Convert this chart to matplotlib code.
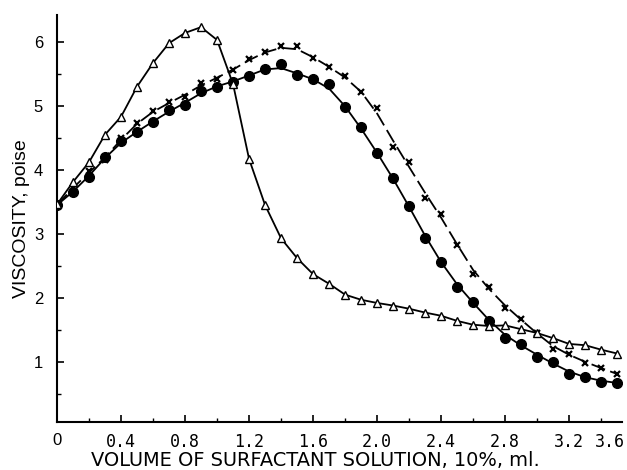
import numpy as np
import matplotlib
matplotlib.use("Agg")
import matplotlib.pyplot as plt

plt.rcParams['font.family'] = ['Liberation Sans', 'DejaVu Sans']

volume = [round(0.1 * i, 1) for i in range(36)]

tri = [3.46, 3.81, 4.12, 4.55, 4.83, 5.30, 5.67, 5.98, 6.14, 6.23,
       6.03, 5.34, 4.17, 3.45, 2.93, 2.62, 2.37, 2.22, 2.05, 1.97,
       1.92, 1.88, 1.83, 1.77, 1.72, 1.64, 1.58, 1.56, 1.57, 1.51,
       1.45, 1.37, 1.28, 1.26, 1.19, 1.13]

circ = [3.45, 3.65, 3.89, 4.20, 4.45, 4.59, 4.75, 4.94, 5.01, 5.24,
        5.30, 5.38, 5.47, 5.58, 5.65, 5.48, 5.42, 5.34, 4.98, 4.67,
        4.26, 3.87, 3.44, 2.94, 2.56, 2.17, 1.94, 1.64, 1.38, 1.28,
        1.08, 1.00, 0.81, 0.77, 0.69, 0.67]

cross = [3.45, 3.72, 3.98, 4.15, 4.50, 4.73, 4.92, 5.06, 5.14, 5.36,
         5.42, 5.56, 5.73, 5.84, 5.93, 5.93, 5.75, 5.61, 5.47, 5.22,
         4.97, 4.36, 4.13, 3.56, 3.31, 2.83, 2.37, 2.17, 1.84, 1.67,
         1.45, 1.20, 1.13, 0.98, 0.91, 0.81]

xtick_vals = [0, 0.4, 0.8, 1.2, 1.6, 2.0, 2.4, 2.8, 3.2]
xtick_labels = ['0', '0.4', '0.8', '1.2', '1.6', '2.0', '2.4', '2.8', '3.2']
last_label = '3.6'
ytick_vals = [1, 2, 3, 4, 5, 6]


def smooth(vals):
    v = np.asarray(vals, dtype=float)
    out = v.copy()
    out[1:-1] = (v[:-2] + 2 * v[1:-1] + v[2:]) / 4.0
    return out


fig = plt.figure(figsize=(6.27, 4.70), dpi=100)
ax = fig.add_axes([57/627, 48/470, 565/627, 407/470])

lw = 1.3
ax.plot(volume, tri, color='black', lw=lw, zorder=2)
ax.plot(volume, tri, linestyle='none', marker='^', ms=6, mfc='white',
        mec='black', mew=1.0, zorder=4)
ax.plot(volume, smooth(circ), color='black', lw=lw, zorder=2)
ax.plot(volume, circ, linestyle='none', marker='o', ms=7, color='black', zorder=3)
ax.plot(volume, smooth(cross), color='black', lw=lw, ls=(0, (8, 3)), zorder=2)
ax.plot(volume, cross, linestyle='none', marker='x', ms=5, mew=1.6,
        color='black', zorder=3)

ax.set_xlim(0, 3.53)
ax.set_ylim(0.06, 6.42)

for s in ['top', 'right']:
    ax.spines[s].set_visible(False)
for s in ['left', 'bottom']:
    ax.spines[s].set_linewidth(1.5)

ax.set_xticks(np.arange(0.2, 3.5, 0.2), minor=True)
ax.set_xticks(xtick_vals + [3.455])
ax.set_xticklabels(xtick_labels + [last_label])
# the last printed label sits off its tick in the original; hide its tick mark
ax.xaxis.get_major_ticks()[-1].tick1line.set_visible(False)
for lab in ax.get_xticklabels()[1:]:
    lab.set_fontfamily(['DejaVu Sans Mono'])
    lab.set_fontsize(11)
ax.get_xticklabels()[0].set_fontsize(12)
ax.set_yticks(ytick_vals)
ax.set_yticks([0.5, 1.5, 2.5, 3.5, 4.5, 5.5], minor=True)
ax.tick_params(axis='both', which='major', direction='in', length=5, width=1.2,
               labelsize=12)
ax.tick_params(axis='x', which='major', pad=8)
ax.tick_params(axis='y', which='major', pad=10)
ax.tick_params(axis='both', which='minor', direction='in', length=3, width=1.0)

xl = ax.set_xlabel('VOLUME OF SURFACTANT SOLUTION, 10%, ml.', fontsize=12,
                   family=['DejaVu Sans'])
yl = ax.set_ylabel('VISCOSITY, poise', fontsize=12)
fig.canvas.draw()
w = xl.get_window_extent().width
xl.set_fontsize(12 * 446.0 / w)
h = yl.get_window_extent().height
yl.set_fontsize(12 * 158.0 / h)
ax.xaxis.set_label_coords(0.458, -0.072)
ax.yaxis.set_label_coords(-0.047, 0.499)

fig.savefig('out.png', dpi=100)
